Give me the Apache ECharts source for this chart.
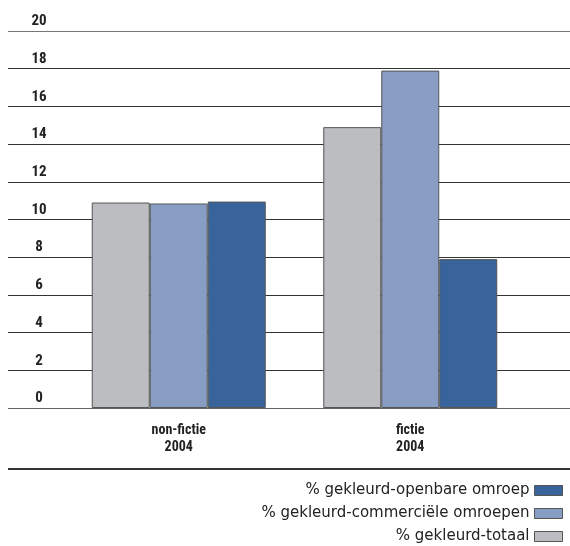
<!DOCTYPE html>
<html><head><meta charset="utf-8">
<script src="https://cdn.jsdelivr.net/npm/echarts@6/dist/echarts.min.js"></script>
<style>html,body{margin:0;padding:0;background:#fff}#c{width:570px;height:546px}</style>
</head><body><div id="c"></div>
<script>
const categories = ['non-fictie\n2004', 'fictie\n2004'];
const totaal = [10.9, 14.9];
const commercieel = [10.85, 17.9];
const openbaar = [10.95, 7.9];
const yTicks = [0, 20, 2];
const names = ['% gekleurd-openbare omroep', '% gekleurd-commerciële omroepen', '% gekleurd-totaal'];

const boldFont = '"Roboto Condensed", "Liberation Sans Narrow", Roboto, sans-serif';
const chart = echarts.init(document.getElementById('c'), null, {renderer: 'canvas'});
const border = {borderColor: '#555', borderWidth: 1};
const gridColors = ['#666', '#333', '#333', '#333', '#333', '#333', '#333', '#333', '#333', '#333', '#777'];
chart.setOption({
  animation: false,
  grid: [
    {left: 63, right: 44, top: 31, bottom: 138},
    {left: 8, right: 0, top: 31, bottom: 138}
  ],
  xAxis: [
    {type: 'category', data: categories, gridIndex: 0,
     axisLine: {show: false}, axisTick: {show: false},
     axisLabel: {margin: 14, color: '#222', fontFamily: boldFont, fontWeight: 'bold', fontSize: 14, lineHeight: 17}},
    {type: 'value', gridIndex: 1, min: 0, max: 1, show: false}
  ],
  yAxis: [
    {type: 'value', gridIndex: 0, min: yTicks[0], max: yTicks[1], interval: yTicks[2], show: false},
    {type: 'value', gridIndex: 1, min: yTicks[0], max: yTicks[1], interval: yTicks[2],
     axisLine: {show: false}, axisTick: {show: false},
     splitLine: {lineStyle: {color: gridColors, width: 1}},
     axisLabel: {inside: true, margin: 31, align: 'center', verticalAlign: 'bottom', padding: [0, 0, 2, 0],
       color: '#222', fontFamily: boldFont, fontWeight: 'bold', fontSize: 15}}
  ],
  legend: {
    orient: 'vertical', right: 2, top: 478, height: 80, align: 'right', itemGap: 8,
    itemWidth: 28, itemHeight: 10, icon: 'rect',
    data: names,
    itemStyle: {borderColor: '#555', borderWidth: 1},
    textStyle: {fontFamily: '"DejaVu Sans", sans-serif', fontSize: 15, color: '#222'}
  },
  graphic: [{type: 'line', shape: {x1: 8, y1: 469, x2: 570, y2: 469}, style: {stroke: '#333', lineWidth: 2}}],
  series: [
    {name: names[2], type: 'bar', data: totaal, barWidth: 58, barGap: '0%', itemStyle: Object.assign({color: '#bcbdc1'}, border)},
    {name: names[1], type: 'bar', data: commercieel, barWidth: 58, barGap: '0%', itemStyle: Object.assign({color: '#879dc4'}, border)},
    {name: names[0], type: 'bar', data: openbaar, barWidth: 58, barGap: '0%', itemStyle: Object.assign({color: '#39649b'}, border)}
  ]
});
</script></body></html>
